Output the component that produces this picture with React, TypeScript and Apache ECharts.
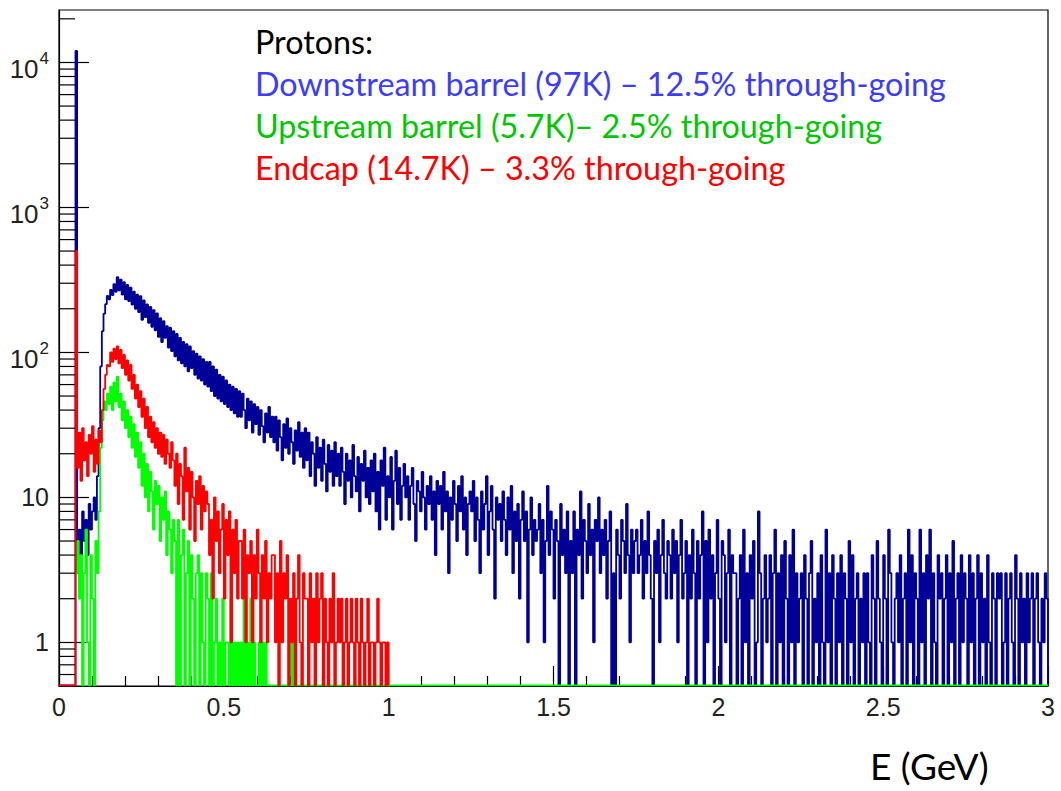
import React, { useEffect, useRef } from "react";
import * as echarts from "echarts";

// Histogram binning (GeV)
const BIN_START = 0.05;
const BIN_WIDTH = 0.005;
const X_MIN = 0;
const X_MAX = 3;
const Y_MIN = 0.5;
const Y_MAX = 23000;

// Downstream barrel (blue), bins from 0.05 GeV, 0.005 GeV wide
const downstream = [
  12000, 3, 6, 4, 8, 5, 7, 4, 9, 6, 8, 10, 7, 14, 30, 80, 140, 185, 215, 245,
  232, 270, 248, 296, 262, 330, 268, 318, 250, 305, 232, 292, 226, 280, 214, 262, 200, 250, 190, 244,
  168, 228, 175, 214, 160, 206, 150, 196, 142, 186, 128, 172, 118, 164, 126, 152, 108, 148, 102, 140,
  94, 134, 88, 126, 84, 118, 80, 114, 74, 110, 78, 102, 70, 98, 66, 94, 64, 90, 60, 86,
  58, 86, 54, 80, 50, 76, 48, 70, 46, 68, 44, 64, 42, 60, 40, 58, 38, 56, 36, 54,
  36, 52, 40, 30, 48, 34, 46, 28, 44, 32, 42, 27, 40, 31, 24, 38, 28, 42, 26, 36,
  24, 36, 21, 34, 26, 18, 32, 22, 35, 20, 30, 24, 17, 29, 21, 33, 19, 28, 16, 30,
  18, 28, 14, 24, 20, 12, 26, 16, 22, 13, 25, 17, 11, 23, 15, 21, 12, 24, 14, 20,
  12, 22, 15, 9, 20, 13, 18, 10, 23, 14, 11, 19, 8, 17, 13, 21, 10, 16, 9, 18,
  11, 20, 8, 15, 6, 18, 12, 22, 7, 14, 10, 19, 6, 13, 21, 9, 16, 7, 12, 17,
  10, 14, 7, 12, 16, 9, 5, 13, 11, 8, 15, 10, 6, 12, 9, 14, 7, 11, 4, 13,
  9, 12, 6, 15, 8, 11, 3, 10, 7, 13, 9, 5, 12, 8, 14, 6, 10, 4, 9, 11,
  8, 13, 5, 10, 7, 3, 11, 6, 9, 14, 4, 8, 12, 6, 2, 10, 7, 9, 5, 11,
  7, 4, 10, 6, 12, 3, 8, 5, 9, 2, 7, 11, 5, 8, 1, 6, 10, 4, 7, 5,
  6, 9, 3, 7, 1, 5, 12, 4, 8, 6, 2, 7, 5, 0, 9, 4, 6, 3, 8, 0,
  5, 3, 8, 0, 6, 4, 11, 2, 7, 5, 3, 9, 4, 6, 1, 7, 5, 10, 3, 6,
  4, 7, 2, 5, 8, 0, 3, 0, 6, 4, 2, 7, 5, 3, 9, 4, 1, 6, 3, 5,
  6, 3, 4, 7, 2, 5, 3, 8, 4, 2, 0, 5, 3, 6, 1, 4, 7, 3, 2, 5,
  4, 2, 6, 3, 5, 1, 4, 7, 2, 3, 5, 0, 4, 2, 6, 3, 0, 5, 2, 4,
  8, 0, 5, 1, 6, 2, 4, 0, 3, 7, 2, 0, 5, 4, 1, 3, 6, 0, 4, 3,
  3, 0, 2, 4, 0, 6, 1, 3, 0, 4, 2, 5, 0, 1, 8, 3, 0, 2, 4, 1,
  2, 4, 0, 3, 6, 0, 3, 1, 4, 0, 5, 2, 0, 4, 1, 6, 0, 3, 1, 2,
  3, 0, 4, 2, 0, 3, 5, 0, 2, 1, 3, 0, 4, 1, 0, 6, 1, 3, 0, 4,
  2, 0, 3, 1, 4, 0, 3, 2, 0, 5, 1, 4, 0, 2, 3, 0, 2, 1, 3, 0,
  3, 1, 0, 4, 2, 0, 5, 2, 1, 0, 4, 2, 0, 6, 3, 1, 0, 2, 3, 1,
  4, 0, 2, 3, 0, 6, 1, 4, 0, 3, 2, 0, 6, 1, 3, 0, 4, 2, 6, 0,
  3, 1, 0, 4, 2, 3, 0, 2, 4, 0, 3, 1, 5, 0, 2, 3, 0, 4, 1, 3,
  2, 0, 4, 1, 3, 0, 2, 4, 0, 3, 1, 2, 0, 4, 1, 0, 3, 2, 0, 3,
  2, 3, 0, 1, 3, 0, 2, 3, 1, 0, 4, 2, 0, 3, 1, 2, 0, 3, 1, 2,
  3, 0, 2, 3, 1, 0, 2, 1, 3, 2,
];

// Endcap (red), bins from 0.05 GeV
const endcap = [
  500, 16, 28, 13, 30, 18, 24, 14, 27, 20, 31, 15, 25, 17, 29, 24, 40, 56, 70, 82,
  80, 100, 86, 106, 90, 110, 84, 104, 78, 96, 70, 88, 64, 82, 56, 70, 48, 60, 42, 54,
  36, 48, 30, 42, 26, 36, 24, 33, 22, 30, 20, 28, 19, 27, 17, 25, 20, 16, 24, 18,
  12, 20, 9, 17, 14, 7, 22, 11, 16, 6, 15, 10, 5, 13, 9, 14, 6, 12, 8, 11,
  9, 4, 7, 2, 10, 5, 8, 3, 6, 9, 2, 7, 4, 8, 1, 6, 3, 7, 2, 5,
  5, 2, 6, 1, 4, 3, 5, 1, 4, 2, 6, 3, 1, 4, 2, 5, 1, 3, 2, 4,
  4, 1, 3, 0, 5, 1, 3, 2, 4, 0, 2, 1, 3, 0, 2, 4, 1, 0, 3, 2,
  2, 0, 3, 1, 2, 0, 3, 1, 2, 3, 0, 2, 1, 0, 2, 1, 3, 0, 1, 2,
  1, 2, 0, 1, 2, 0, 1, 2, 1, 0, 2, 1, 0, 2, 1, 0, 1, 2, 0, 1,
  1, 0, 1, 2, 1, 0, 1, 1, 0, 1,
];

// Upstream barrel (green), bins from 0.05 GeV
const upstream = [
  3, 5, 2, 4, 0, 3, 6, 1, 0, 4, 2, 0, 5, 3, 8, 22, 34, 46, 40, 52,
  44, 58, 40, 62, 46, 68, 42, 52, 34, 46, 30, 40, 26, 36, 22, 32, 19, 28, 16, 24,
  12, 20, 10, 17, 8, 15, 11, 6, 13, 9, 12, 5, 10, 7, 11, 4, 8, 6, 3, 7,
  5, 0, 7, 0, 4, 6, 0, 3, 5, 0, 4, 2, 0, 3, 4, 0, 3, 1, 0, 3,
  2, 0, 3, 0, 1, 2, 0, 1, 0, 2, 0, 1, 1, 0, 2, 0, 1, 0, 1, 0,
  1, 0, 2, 0, 1, 0, 2, 0, 1, 0, 0, 1, 0, 1, 0, 1, 0, 0, 0, 0,
  0, 0, 0, 0, 0, 0, 0, 0, 0, 0, 0, 1, 0, 0, 0, 0, 0, 0, 0, 0,
];

const xTickValues = [0, 0.5, 1, 1.5, 2, 2.5, 3];
const yMinorTicks = [
  0.6, 0.7, 0.8, 0.9,
  2, 3, 4, 5, 6, 7, 8, 9,
  20, 30, 40, 50, 60, 70, 80, 90,
  200, 300, 400, 500, 600, 700, 800, 900,
  2000, 3000, 4000, 5000, 6000, 7000, 8000, 9000,
  20000,
];

const legendLines = [
  { text: "Protons:", color: "#000000" },
  { text: "Downstream barrel (97K) – 12.5% through-going", color: "#3c3cff" },
  { text: "Upstream barrel (5.7K)– 2.5% through-going", color: "#00c800" },
  { text: "Endcap (14.7K) – 3.3% through-going", color: "#ff0000" },
];

const FLOOR = 0.505; // zero-count bins are drawn on the lower frame, like ROOT
const AXIS_FONT = "Liberation Sans";
const TEXT_FONT = "Lato";

function r4(v: number) {
  return Math.round(v * 10000) / 10000;
}

function toSteps(bins: number[], rangeStart: number, rangeEnd: number) {
  const pts: number[][] = [];
  if (rangeStart < BIN_START) pts.push([rangeStart, FLOOR]);
  bins.forEach((v, i) => pts.push([r4(BIN_START + i * BIN_WIDTH), v > 0 ? v : FLOOR]));
  const endEdge = r4(BIN_START + bins.length * BIN_WIDTH);
  pts.push([endEdge, FLOOR]);
  if (rangeEnd > endEdge + 1e-9) pts.push([rangeEnd, FLOOR]);
  return pts;
}

export default function App() {
  const ref = useRef<HTMLDivElement>(null);

  useEffect(() => {
    if (!ref.current) return;
    const chart = echarts.init(ref.current, undefined, { renderer: "svg" });

    const histSeries = (name: string, bins: number[], start: number, end: number, color: string) => ({
      name,
      type: "line",
      step: "end",
      data: toSteps(bins, start, end),
      symbol: "none",
      clip: true,
      lineStyle: { color, width: 1.8 },
      z: 3,
    });

    const option: any = {
      animation: false,
      backgroundColor: "#ffffff",
      grid: {
        left: 59,
        right: 13,
        top: 10,
        bottom: 105,
        show: true,
        borderColor: "#000",
        borderWidth: 1.2,
        backgroundColor: "transparent",
      },
      xAxis: {
        type: "value",
        min: X_MIN,
        max: X_MAX,
        interval: 0.5,
        axisLine: { show: true, lineStyle: { color: "#000", width: 1.2 } },
        axisTick: { show: true, inside: true, length: 20, lineStyle: { color: "#000", width: 1.2 } },
        minorTick: { show: true, splitNumber: 5, length: 10, lineStyle: { color: "#000", width: 1.2 } },
        splitLine: { show: false },
        axisLabel: {
          margin: 8,
          fontSize: 25,
          fontFamily: AXIS_FONT,
          color: "#222",
          formatter: (v: number) => (xTickValues.includes(v) ? String(v) : ""),
        },
      },
      yAxis: {
        type: "log",
        logBase: 10,
        min: Y_MIN,
        max: Y_MAX,
        axisLine: { show: true, lineStyle: { color: "#000", width: 1.2 } },
        axisTick: { show: true, inside: true, length: 30, lineStyle: { color: "#000", width: 1.2 } },
        splitLine: { show: false },
        axisLabel: {
          margin: 10,
          showMinLabel: false,
          showMaxLabel: false,
          color: "#222",
          fontSize: 25,
          fontFamily: AXIS_FONT,
          formatter: (v: number) => {
            const e = Math.round(Math.log10(v));
            if (Math.abs(v - Math.pow(10, e)) > 1e-6 * v) return "";
            if (e === 0) return "1";
            if (e === 1) return "10";
            return `{b|10}{s|${e}}`;
          },
          rich: {
            b: { fontSize: 26, fontFamily: AXIS_FONT, color: "#222", padding: [14, 0, 0, 0] },
            s: { fontSize: 17, fontFamily: AXIS_FONT, color: "#222", padding: [0, 0, 8, 1] },
          },
        },
      },
      series: [
        histSeries("Downstream barrel", downstream, X_MIN, X_MAX, "#000099"),
        histSeries("Upstream barrel", upstream, BIN_START, X_MAX, "#00ff00"),
        histSeries("Endcap", endcap, X_MIN, 1.0, "#ff0000"),
        {
          type: "custom",
          silent: true,
          z: 6,
          data: yMinorTicks.map((v) => [X_MIN, v]),
          renderItem: (params: any, api: any) => {
            const p = api.coord([X_MIN, api.value(1)]);
            return {
              type: "line",
              shape: { x1: p[0], y1: p[1], x2: p[0] + 16, y2: p[1] },
              style: { stroke: "#000", lineWidth: 1.2 },
            };
          },
        },
      ],
      graphic: [
        ...legendLines.map((l, i) => ({
          type: "text",
          left: 255,
          top: 25 + i * 42,
          style: {
            text: l.text,
            fill: l.color,
            fontSize: 32.3,
            fontFamily: TEXT_FONT,
          },
        })),
        {
          type: "text",
          left: 870,
          top: 747,
          style: { text: "E (GeV)", fill: "#000", fontSize: 37, fontFamily: TEXT_FONT },
        },
      ],
    };

    chart.setOption(option);
    return () => chart.dispose();
  }, []);

  return (
    <div
      ref={ref}
      style={{ position: "fixed", left: 0, top: 0, width: 1061, height: 791, background: "#fff" }}
    />
  );
}
